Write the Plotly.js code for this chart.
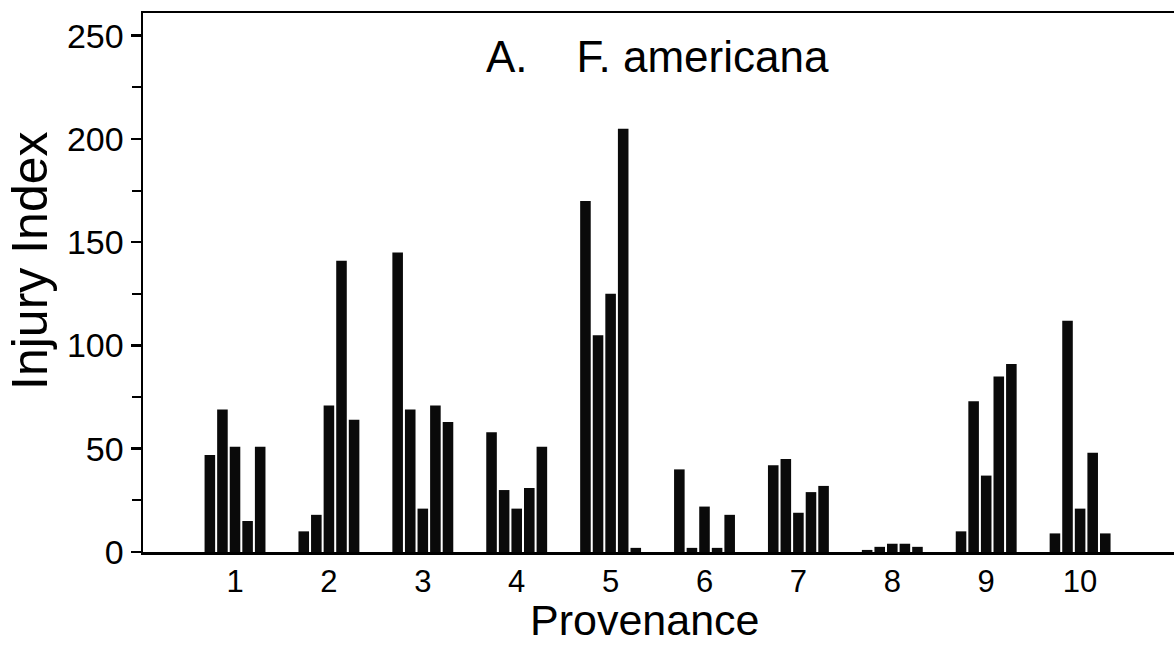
<!DOCTYPE html>
<html>
<head>
<meta charset="utf-8">
<script src="https://cdn.plot.ly/plotly-3.0.1.min.js"></script>
<style>html,body{margin:0;padding:0;background:#fff;}#chart{width:1176px;height:647px;}</style>
</head>
<body>
<div id="chart"></div>
<script>
// Provenance groups 1..10, five bars per group
const provenance = [1, 2, 3, 4, 5, 6, 7, 8, 9, 10];
const tickLabels = ["1", "2", "3", "4", "5", "6", "7", "8", "9", "10"];
const bar1 = [47, 10, 145, 58, 170, 40, 42, 1, 10, 9];
const bar2 = [69, 18, 69, 30, 105, 2, 45, 2.5, 73, 112];
const bar3 = [51, 71, 21, 21, 125, 22, 19, 4, 37, 21];
const bar4 = [15, 141, 71, 31, 205, 2, 29, 4, 85, 48];
const bar5 = [51, 64, 63, 51, 2, 18, 32, 2.5, 91, 9];
const series = [bar1, bar2, bar3, bar4, bar5];

const FONT = "Liberation Sans, Arial, Helvetica, sans-serif";

const traces = series.map((vals, i) => ({
  type: "bar",
  x: provenance,
  y: vals,
  marker: {color: "#0a0a0a", line: {width: 0}},
  showlegend: false,
  hoverinfo: "skip"
}));

const layout = {
  width: 1176,
  height: 647,
  margin: {l: 143, r: 2, t: 13, b: 95},
  paper_bgcolor: "#ffffff",
  plot_bgcolor: "#ffffff",
  barmode: "group",
  bargap: 0.33,
  bargroupgap: 0.16,
  font: {family: FONT, color: "#000"},
  xaxis: {
    range: [0.02, 11.0],
    tickmode: "array",
    tickvals: provenance,
    ticktext: tickLabels,
    ticks: "",
    showgrid: false,
    zeroline: false,
    showline: true,
    linecolor: "#000",
    linewidth: 2.5,
    mirror: true,
    tickfont: {size: 31, family: FONT, color: "#000"},
    ticklabelstandoff: 0
  },
  yaxis: {
    range: [0, 261],
    tickmode: "linear",
    tick0: 0,
    dtick: 50,
    ticks: "outside",
    ticklen: 10,
    tickwidth: 2.5,
    tickcolor: "#000",
    minor: {dtick: 25, tick0: 0, ticks: "outside", ticklen: 9, tickwidth: 2, tickcolor: "#000", showgrid: false},
    showgrid: false,
    zeroline: false,
    showline: true,
    linecolor: "#000",
    linewidth: 2.5,
    tickfont: {size: 34, family: FONT, color: "#000"},
    ticklabelstandoff: 0
  },
  annotations: [
    {
      text: "A.\u00a0\u00a0\u00a0\u00a0F. americana",
      xref: "paper", yref: "paper",
      x: 0.4995, y: 0.92,
      xanchor: "center", yanchor: "middle",
      showarrow: false,
      font: {size: 44, family: FONT, color: "#000"}
    },
    {
      text: "Injury Index",
      xref: "paper", yref: "paper",
      x: -0.1096, y: 0.54,
      xanchor: "center", yanchor: "middle",
      textangle: -90,
      showarrow: false,
      font: {size: 50, family: FONT, color: "#000"}
    },
    {
      text: "Provenance",
      xref: "paper", yref: "paper",
      x: 0.487, y: -0.127,
      xanchor: "center", yanchor: "middle",
      showarrow: false,
      font: {size: 43, family: FONT, color: "#000"}
    }
  ]
};

Plotly.newPlot("chart", traces, layout, {displayModeBar: false, staticPlot: true});
</script>
</body>
</html>
